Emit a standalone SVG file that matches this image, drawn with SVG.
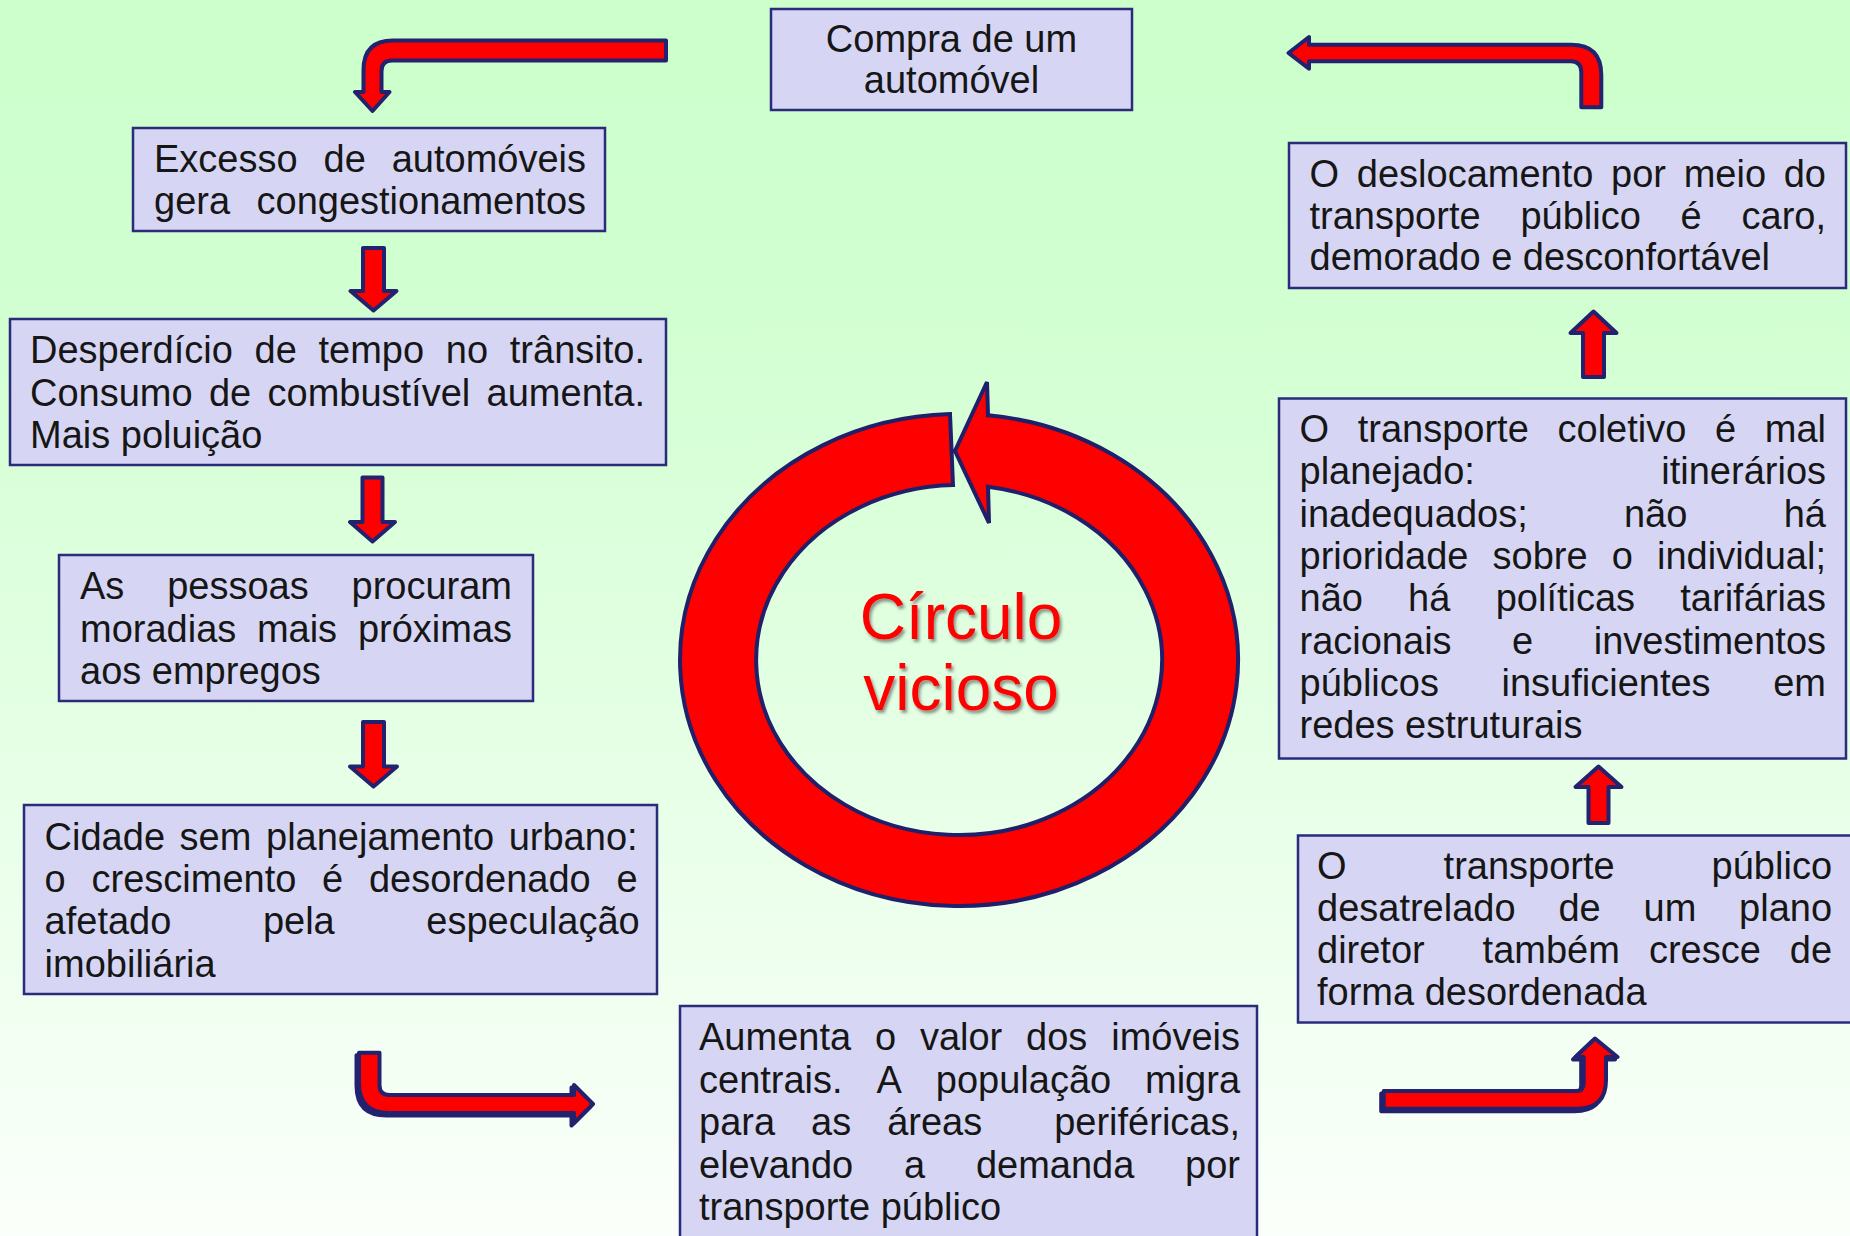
<svg xmlns="http://www.w3.org/2000/svg" width="1850" height="1236" viewBox="0 0 1850 1236">
<defs>
<linearGradient id="bg" x1="0" y1="0" x2="0" y2="1">
<stop offset="0" stop-color="#ccffcc"/>
<stop offset="0.22" stop-color="#d0ffd0"/>
<stop offset="1" stop-color="#fbfffb"/>
</linearGradient>
<filter id="sh" x="-10%" y="-10%" width="130%" height="130%">
<feDropShadow dx="2" dy="3" stdDeviation="1.5" flood-color="#404040" flood-opacity="0.55"/>
</filter>
<style>
.box{fill:#d6d6f4;stroke:#2b2b7c;stroke-width:2.5}
.t{font-family:"Liberation Sans",Arial,sans-serif;font-size:38px;fill:#161616}
.arr{fill:#ff0000;stroke:#22226e;stroke-width:4;stroke-linejoin:round}
.arrsh{fill:#22226e;stroke:#22226e;stroke-width:4;stroke-linejoin:round}
.ring{fill:#ff0000;stroke:#1f1f6a;stroke-width:4;stroke-linejoin:miter}
.big{font-family:"Liberation Sans",Arial,sans-serif;font-size:64px;fill:#ff0000;text-anchor:middle}
</style>
</defs>
<rect x="0" y="0" width="1850" height="1236" fill="url(#bg)"/>

<g id="connectors">
<path class="arr" d="M666 40.5 L666 60.5 L392 60.5 Q381.5 60.5 381.5 71 L381.5 92 L389.5 92 L372.5 111 L355 92 L363.5 92 L363.5 70 Q363.5 40.5 393 40.5 Z"/>
<path class="arr" d="M363 248 L384 248 L384 291 L396.5 291 L373.5 310.5 L350.5 291 L363 291 Z"/>
<path class="arr" d="M362.5 477.5 L382.5 477.5 L382.5 522 L395 522 L372.5 541.5 L350 522 L362.5 522 Z"/>
<path class="arr" d="M363 722 L384 722 L384 766.5 L397 766.5 L373.5 786.5 L350 766.5 L363 766.5 Z"/>
<path class="arrsh" transform="translate(-2.5,2.5)" d="M359 1052.7 L379.5 1052.7 L379.5 1085 Q379.5 1095 389.5 1095 L574 1095 L574 1085 L593 1104 L574 1123 L574 1113 L389 1113 Q359 1113 359 1083 Z"/>
<path class="arr" d="M359 1052.7 L379.5 1052.7 L379.5 1085 Q379.5 1095 389.5 1095 L574 1095 L574 1085 L593 1104 L574 1123 L574 1113 L389 1113 Q359 1113 359 1083 Z"/>
<path class="arrsh" transform="translate(-2.5,2.5)" d="M1383.7 1091 L1576 1091 Q1583.7 1091 1583.7 1083 L1583.7 1057 L1575.5 1057 L1595 1038.5 L1617.5 1057 L1606 1057 L1606 1080 Q1606 1108.7 1577 1108.7 L1383.7 1108.7 Z"/>
<path class="arr" d="M1383.7 1091 L1576 1091 Q1583.7 1091 1583.7 1083 L1583.7 1057 L1575.5 1057 L1595 1038.5 L1617.5 1057 L1606 1057 L1606 1080 Q1606 1108.7 1577 1108.7 L1383.7 1108.7 Z"/>
<path class="arr" d="M1588.5 823 L1608.5 823 L1608.5 787 L1621.5 787 L1598.5 766.5 L1575.5 787 L1588.5 787 Z"/>
<path class="arr" d="M1583 377 L1604 377 L1604 333 L1616.5 333 L1593.5 311.5 L1570.5 333 L1583 333 Z"/>
<path class="arr" d="M1288.5 53 L1309 37 L1309 44.7 L1571 44.7 Q1601.3 44.7 1601.3 75 L1601.3 107.3 L1581.3 107.3 L1581.3 72 Q1581.3 61.3 1570.6 61.3 L1309 61.3 L1309 68.7 Z"/>
</g>

<g id="circulo">
<path class="ring" d="M950 414.1 A279 246 0 1 0 988 415.3 L987 382 L955 451 L989 523 L988 486.8 A203 175 0 1 1 953 485.1 Z"/>
<text class="big" filter="url(#sh)"><tspan x="961" y="639">Círculo</tspan><tspan x="961" y="710">vicioso</tspan></text>
</g>

<g id="n-compra">
<rect class="box" x="771" y="9" width="361" height="101"/>
<text class="t" text-anchor="middle"><tspan x="951.5" y="51.5">Compra de um</tspan><tspan x="951.5" y="93">automóvel</tspan></text>
</g>

<g id="n-excesso">
<rect class="box" x="133" y="128" width="472" height="103"/>
<text class="t" y="171.5"><tspan x="154">Excesso</tspan><tspan x="323.5">de</tspan><tspan x="391.7">automóveis</tspan></text>
<text class="t" y="213.5"><tspan x="154">gera</tspan><tspan x="256.5">congestionamentos</tspan></text>
</g>

<g id="n-desperdicio">
<rect class="box" x="10" y="319" width="656" height="146"/>
<text class="t" y="363"><tspan x="30">Desperdício</tspan><tspan x="254.5">de</tspan><tspan x="318.5">tempo</tspan><tspan x="445.8">no</tspan><tspan x="509.8">trânsito.</tspan></text>
<text class="t" y="405.5"><tspan x="30">Consumo</tspan><tspan x="208.9">de</tspan><tspan x="267.5">combustível</tspan><tspan x="486.6">aumenta.</tspan></text>
<text class="t" x="30" y="448">Mais poluição</text>
</g>

<g id="n-pessoas">
<rect class="box" x="59" y="555" width="474" height="146"/>
<text class="t" y="599"><tspan x="80">As</tspan><tspan x="167.2">pessoas</tspan><tspan x="351.5">procuram</tspan></text>
<text class="t" y="641.5"><tspan x="80">moradias</tspan><tspan x="256.9">mais</tspan><tspan x="357.9">próximas</tspan></text>
<text class="t" x="80" y="684">aos empregos</text>
</g>

<g id="n-cidade">
<rect class="box" x="24" y="805" width="633" height="189"/>
<text class="t" y="849.5"><tspan x="44.6">Cidade</tspan><tspan x="179.6">sem</tspan><tspan x="266">planejamento</tspan><tspan x="508.7">urbano:</tspan></text>
<text class="t" y="892"><tspan x="44.6">o</tspan><tspan x="91.5">crescimento</tspan><tspan x="322">é</tspan><tspan x="368.9">desordenado</tspan><tspan x="616.5">e</tspan></text>
<text class="t" y="934"><tspan x="44.6">afetado</tspan><tspan x="262.9">pela</tspan><tspan x="426.3">especulação</tspan></text>
<text class="t" x="44.6" y="976.5">imobiliária</text>
</g>

<g id="n-aumenta">
<rect class="box" x="680" y="1006" width="577" height="240"/>
<text class="t" y="1050"><tspan x="699">Aumenta</tspan><tspan x="874.9">o</tspan><tspan x="919.9">valor</tspan><tspan x="1026.1">dos</tspan><tspan x="1111.2">imóveis</tspan></text>
<text class="t" y="1092.5"><tspan x="699">centrais.</tspan><tspan x="876.5">A</tspan><tspan x="935.8">população</tspan><tspan x="1145">migra</tspan></text>
<text class="t" y="1135"><tspan x="699">para</tspan><tspan x="811">as</tspan><tspan x="887.2">áreas</tspan><tspan x="1054.2">periféricas,</tspan></text>
<text class="t" y="1177.5"><tspan x="699">elevando</tspan><tspan x="904">a</tspan><tspan x="975.9">demanda</tspan><tspan x="1185.1">por</tspan></text>
<text class="t" x="699" y="1220">transporte público</text>
</g>

<g id="n-desatrelado">
<rect class="box" x="1298" y="835.5" width="560" height="187"/>
<text class="t" y="879"><tspan x="1317">O</tspan><tspan x="1443.6">transporte</tspan><tspan x="1711.6">público</tspan></text>
<text class="t" y="921"><tspan x="1317">desatrelado</tspan><tspan x="1558.4">de</tspan><tspan x="1643.5">um</tspan><tspan x="1739.1">plano</tspan></text>
<text class="t" y="963"><tspan x="1317">diretor</tspan><tspan x="1482.6">também</tspan><tspan x="1648.9">cresce</tspan><tspan x="1789.8">de</tspan></text>
<text class="t" x="1317" y="1005">forma desordenada</text>
</g>

<g id="n-coletivo">
<rect class="box" x="1279" y="398.5" width="567" height="360"/>
<text class="t" y="442"><tspan x="1299.5">O</tspan><tspan x="1357.7">transporte</tspan><tspan x="1557.5">coletivo</tspan><tspan x="1715">é</tspan><tspan x="1764.8">mal</tspan></text>
<text class="t" y="484.3"><tspan x="1299.5">planejado:</tspan><tspan x="1661.3">itinerários</tspan></text>
<text class="t" y="526.6"><tspan x="1299.5">inadequados;</tspan><tspan x="1623.9">não</tspan><tspan x="1783.7">há</tspan></text>
<text class="t" y="568.9"><tspan x="1299.5">prioridade</tspan><tspan x="1492.6">sobre</tspan><tspan x="1611.8">o</tspan><tspan x="1657">individual;</tspan></text>
<text class="t" y="611.2"><tspan x="1299.5">não</tspan><tspan x="1408.1">há</tspan><tspan x="1495.7">políticas</tspan><tspan x="1680.3">tarifárias</tspan></text>
<text class="t" y="653.5"><tspan x="1299.5">racionais</tspan><tspan x="1512.1">e</tspan><tspan x="1593.7">investimentos</tspan></text>
<text class="t" y="695.8"><tspan x="1299.5">públicos</tspan><tspan x="1501.5">insuficientes</tspan><tspan x="1773.2">em</tspan></text>
<text class="t" x="1299.5" y="738.1">redes estruturais</text>
</g>

<g id="n-deslocamento">
<rect class="box" x="1289" y="143" width="557" height="145"/>
<text class="t" y="186.5"><tspan x="1309.5">O</tspan><tspan x="1356.8">deslocamento</tspan><tspan x="1611">por</tspan><tspan x="1683.7">meio</tspan><tspan x="1783.7">do</tspan></text>
<text class="t" y="228.5"><tspan x="1309.5">transporte</tspan><tspan x="1520.4">público</tspan><tspan x="1680.6">é</tspan><tspan x="1741.5">caro,</tspan></text>
<text class="t" x="1309.5" y="269.5">demorado e desconfortável</text>
</g>
</svg>
